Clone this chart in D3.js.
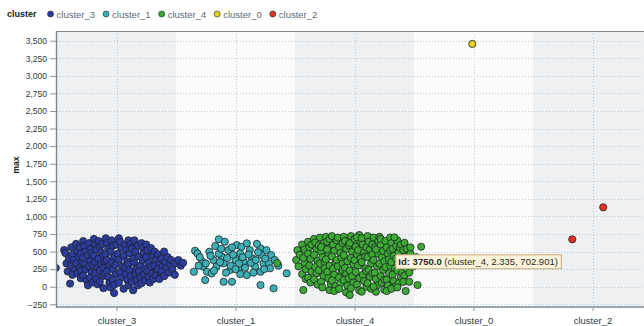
<!DOCTYPE html>
<html>
<head>
<meta charset="utf-8">
<script src="https://cdn.jsdelivr.net/npm/d3@7"></script>
<style>
  html, body { margin: 0; padding: 0; background: #ffffff; }
  svg { display: block; font-family: "Liberation Sans", Arial, sans-serif; }
</style>
</head>
<body>
<svg id="chart" width="644" height="326"></svg>
<script>
// Categories in axis / legend order, with their colours
const categories = ["cluster_3", "cluster_1", "cluster_4", "cluster_0", "cluster_2"];
const seriesColors = ["#2c3c9e", "#3cb0b6", "#3caa32", "#e6d21e", "#e4321e"];

// Y tick values
const yTickValues = [-250, 0, 250, 500, 750, 1000, 1250, 1500, 1750, 2000, 2250, 2500, 2750, 3000, 3250, 3500];

// Jittered points: [x (category index + jitter), max]
const cluster3Points = [
  [-0.51,268],[-0.44,522],[-0.43,478],[-0.42,332],[-0.40,402],[-0.41,218],[-0.39,45],
  [-0.38,560],[-0.37,455],[-0.36,380],[-0.38,295],[-0.35,240],[-0.37,170],[-0.34,610],[-0.33,510],
  [-0.32,420],[-0.34,335],[-0.31,270],[-0.33,190],[-0.30,120],[-0.31,560],[-0.30,470],[-0.29,360],[-0.30,225],
  [-0.28,650],[-0.27,580],[-0.26,500],[-0.28,410],[-0.27,320],[-0.26,250],[-0.28,160],[-0.25,90],
  [-0.24,20],[-0.23,620],[-0.22,540],[-0.24,450],[-0.22,370],[-0.23,290],[-0.21,205],[-0.22,130],
  [-0.20,60],[-0.21,480],[-0.20,310],
  [-0.19,680],[-0.18,600],[-0.17,525],[-0.19,440],[-0.18,350],[-0.16,270],[-0.18,190],[-0.17,110],
  [-0.16,35],[-0.15,650],[-0.14,570],[-0.13,490],[-0.15,400],[-0.13,320],[-0.14,230],[-0.12,150],
  [-0.14,70],[-0.11,-20],[-0.12,610],[-0.11,440],[-0.10,360],[-0.11,270],[-0.10,190],
  [-0.09,690],[-0.08,620],[-0.07,540],[-0.09,460],[-0.08,380],[-0.06,300],[-0.08,220],[-0.07,140],
  [-0.06,60],[-0.05,-10],[-0.04,660],[-0.03,580],[-0.05,500],[-0.02,420],[-0.04,340],[-0.03,250],
  [-0.01,170],[-0.03,95],[-0.02,25],[0.00,600],[0.01,470],[-0.01,310],
  [0.02,690],[0.03,640],[0.04,555],[0.02,385],[0.05,290],[0.03,210],[0.04,130],[0.02,55],
  [-0.02,-90],[0.06,-30],[0.07,600],[0.08,520],[0.06,440],[0.09,360],[0.07,270],[0.08,185],
  [0.09,100],[0.10,20],[0.10,660],[0.11,475],[0.10,320],[0.11,235],
  [0.12,610],[0.13,545],[0.14,400],[0.12,150],[0.13,70],[0.14,-50],[0.15,660],[0.16,500],
  [0.15,340],[0.17,260],[0.16,180],[0.17,95],[0.18,20],[0.18,590],[0.19,430],[0.20,300],
  [0.19,215],[0.20,135],[0.21,620],[0.21,50],
  [0.22,560],[0.23,480],[0.22,380],[0.24,260],[0.23,170],[0.24,90],[0.25,600],[0.26,520],
  [0.25,420],[0.27,340],[0.26,220],[0.27,140],[0.28,60],[0.29,550],[0.29,280],[0.30,190],
  [0.30,440],[0.31,110],
  [0.32,500],[0.33,380],[0.32,300],[0.34,230],[0.33,160],[0.35,460],[0.36,320],[0.35,250],
  [0.37,180],[0.36,110],[0.38,400],[0.39,290],[0.38,220],[0.40,500],[0.41,350],[0.40,150],
  [0.42,270],[0.43,420],[0.44,200],[0.45,320],[0.46,380],[0.47,250],[0.49,330],[0.52,380],
  [0.54,300],[0.56,340],[0.49,170]
];

const cluster1Points = [
  [0.66,512],[0.68,475],[0.65,213],[0.72,356],[0.73,285],[0.76,213],[0.745,95],[0.78,498],
  [0.83,579],[0.86,675],[0.91,640],[0.815,380],[0.84,285],[0.80,190],[0.885,427],[0.90,333],
  [0.90,71],[0.94,522],[0.955,238],[0.97,71],[1.00,380],[1.01,593],[1.04,475],[1.025,262],
  [1.05,569],[1.07,356],[1.095,617],[1.12,522],[1.095,166],[1.14,404],[1.165,285],[1.21,546],
  [1.22,451],[1.235,333],[1.21,213],[1.21,24],[1.28,333],[1.29,262],[1.32,-23],[1.43,190],
  [0.70,420],[0.75,330],[0.79,440],[0.86,470],[0.87,350],[0.93,410],[0.96,300],[0.98,455],
  [1.03,330],[1.06,420],[1.08,270],[1.11,460],[1.13,340],[1.17,380],[1.19,490],[1.25,400],
  [1.26,520],[1.30,450],[1.24,250],[0.82,230],[0.92,200],[1.15,200],[1.04,180],[1.33,380],
  [1.36,300],[0.69,300],[1.00,250],[1.18,610],[0.97,560],[0.88,540]
];

const cluster4Points = [
  [1.35,337],
  [1.51,380],[1.52,520],[1.53,290],[1.54,455],
  [1.56,600],[1.57,-47],[1.56,180],[1.58,340],[1.57,410],[1.59,250],[1.58,530],[1.59,110],
  [1.61,640],[1.62,560],[1.61,470],[1.63,395],[1.62,300],[1.64,215],[1.61,130],[1.63,60],[1.64,600],
  [1.66,680],[1.67,630],[1.68,540],[1.66,455],[1.69,370],[1.67,280],[1.68,190],[1.66,105],[1.69,30],[1.70,590],[1.70,235],
  [1.71,700],[1.72,500],[1.73,420],[1.71,330],[1.74,150],[1.72,70],[1.73,-10],[1.74,620],[1.75,350],[1.75,260],[1.72,565],
  [1.76,710],[1.77,640],[1.78,470],[1.76,390],[1.79,300],[1.77,210],[1.78,120],[1.79,-47],[1.80,40],[1.80,560],[1.77,530],[1.79,680],
  [1.81,720],[1.82,600],[1.83,510],[1.81,430],[1.84,340],[1.82,255],[1.83,170],[1.81,90],[1.84,10],[1.85,660],[1.85,380],[1.83,-60],
  [1.86,700],[1.87,560],[1.88,480],[1.86,290],[1.89,200],[1.87,130],[1.88,50],[1.90,620],[1.89,410],[1.90,330],[1.87,-30],[1.90,240],
  [1.91,711],[1.92,650],[1.93,540],[1.91,450],[1.94,360],[1.92,270],[1.93,180],[1.91,95],[1.94,15],[1.95,590],[1.95,120],[1.93,-80],
  [1.96,-118],[1.97,720],[1.96,620],[1.98,500],[1.97,410],[1.99,320],[1.96,230],[1.98,150],[1.99,60],[2.00,680],[2.00,380],[1.97,-20],
  [2.04,735],[2.01,570],[2.02,460],[2.03,300],[2.01,210],[2.04,120],[2.02,30],[2.05,640],[2.03,520],[2.05,400],[2.04,-50],[2.02,700],
  [2.06,690],[2.07,600],[2.08,490],[2.06,350],[2.09,260],[2.07,170],[2.08,80],[2.10,0],[2.09,430],[2.10,560],[2.06,-70],[2.10,220],
  [2.11,720],[2.12,640],[2.13,530],[2.11,420],[2.14,330],[2.12,240],[2.13,140],[2.11,50],[2.14,-30],[2.15,460],[2.15,600],[2.15,190],
  [2.16,700],[2.17,560],[2.18,-71],[2.16,380],[2.19,290],[2.17,200],[2.18,110],[2.19,20],[2.20,650],[2.20,470],[2.18,530],[2.16,0],
  [2.21,710],[2.22,600],[2.23,420],[2.21,330],[2.24,240],[2.22,150],[2.23,60],[2.25,-40],[2.24,510],[2.25,360],[2.22,680],[2.25,100],
  [2.26,650],[2.27,560],[2.28,470],[2.26,280],[2.29,190],[2.27,100],[2.28,20],[2.30,700],[2.29,390],[2.30,300],[2.27,-60],[2.30,520],
  [2.31,620],[2.32,540],[2.33,440],[2.31,350],[2.34,260],[2.32,170],[2.33,80],[2.34,0],[2.35,580],[2.35,400],[2.31,-30],
  [2.36,660],[2.37,490],[2.38,320],[2.36,230],[2.39,140],[2.37,50],[2.38,560],[2.40,410],[2.39,600],[2.40,200],[2.36,-10],
  [2.42,626],[2.41,520],[2.43,430],[2.41,340],[2.44,250],[2.42,160],[2.43,-61],[2.44,540],[2.45,350],[2.41,70],
  [2.46,71],[2.47,470],[2.46,200],[2.49,285],[2.48,380],[2.47,560],[2.52,420],[2.53,24],[2.56,569],
  [2.335,702.901]
];

const cluster0Points = [[2.99,3454]];
const cluster2Points = [[3.83,674],[4.09,1130]];

// Hovered point readout
const hoverInfo = { id: "3750.0", category: "cluster_4", x: 2.335, y: 702.901 };

const seriesPoints = [cluster3Points, cluster1Points, cluster4Points, cluster0Points, cluster2Points];

const svg = d3.select("#chart");
const plot = { left: 57, top: 31, right: 652, bottom: 306 };

const x = d3.scaleLinear().domain([-0.5, categories.length - 0.5]).range([plot.left, plot.right]);
const y = d3.scaleLinear().domain([-274, 3638]).range([plot.bottom, plot.top]);

svg.append("defs").append("clipPath").attr("id", "plotClip")
  .append("rect")
  .attr("x", plot.left).attr("y", plot.top)
  .attr("width", plot.right - plot.left).attr("height", plot.bottom - plot.top);

// Alternating category bands
svg.append("g").selectAll("rect")
  .data(categories)
  .join("rect")
  .attr("x", (d, i) => x(i - 0.5))
  .attr("y", plot.top)
  .attr("width", (d, i) => x(i + 0.5) - x(i - 0.5))
  .attr("height", plot.bottom - plot.top)
  .attr("fill", (d, i) => i % 2 === 0 ? "#eef0f2" : "#fbfbfb");

// Grid lines
const grid = svg.append("g").attr("clip-path", "url(#plotClip)");
grid.selectAll("line.h")
  .data(yTickValues)
  .join("line")
  .attr("class", "h")
  .attr("x1", plot.left).attr("x2", plot.right)
  .attr("y1", d => Math.round(y(d)) + 0.5).attr("y2", d => Math.round(y(d)) + 0.5)
  .attr("stroke", "#b4cde0").attr("stroke-width", 1).attr("stroke-dasharray", "1,2");
grid.selectAll("line.v")
  .data(categories)
  .join("line")
  .attr("class", "v")
  .attr("x1", (d, i) => Math.round(x(i)) + 0.5).attr("x2", (d, i) => Math.round(x(i)) + 0.5)
  .attr("y1", plot.top).attr("y2", plot.bottom)
  .attr("stroke", "#b4cde0").attr("stroke-width", 1).attr("stroke-dasharray", "1,2");

// Points
const pts = svg.append("g").attr("clip-path", "url(#plotClip)");
seriesPoints.forEach((series, si) => {
  pts.append("g").selectAll("circle")
    .data(series)
    .join("circle")
    .attr("cx", d => x(d[0]))
    .attr("cy", d => y(d[1]))
    .attr("r", 3.6)
    .attr("fill", seriesColors[si])
    .attr("stroke", "#1c2226")
    .attr("stroke-width", 0.8);
});

// Frame
svg.append("line").attr("x1", plot.left).attr("x2", 644)
  .attr("y1", plot.top + 0.5).attr("y2", plot.top + 0.5)
  .attr("stroke", "#7d878c").attr("stroke-width", 1.2);
svg.append("line").attr("x1", plot.left - 0.5).attr("x2", plot.left - 0.5)
  .attr("y1", plot.top).attr("y2", plot.bottom + 2)
  .attr("stroke", "#7d878c").attr("stroke-width", 1.4);
svg.append("line").attr("x1", plot.left).attr("x2", 644)
  .attr("y1", plot.bottom + 1).attr("y2", plot.bottom + 1)
  .attr("stroke", "#7d878c").attr("stroke-width", 1.6);

// Y axis
const yAxis = d3.axisLeft(y).tickValues(yTickValues).tickFormat(d3.format(",")).tickSize(6).tickPadding(3);
const gy = svg.append("g").attr("transform", `translate(${plot.left - 1},0)`).call(yAxis);
gy.select(".domain").remove();
gy.selectAll(".tick line").attr("stroke", "#8a9498");
gy.selectAll(".tick text").attr("fill", "#2e3a44").attr("font-size", "8.5px").attr("font-family", "Liberation Sans, Arial, sans-serif");

// X axis
const xAxis = d3.axisBottom(x).tickValues(d3.range(categories.length)).tickFormat(i => categories[i]).tickSize(3).tickPadding(6);
const gx = svg.append("g").attr("transform", `translate(0,${plot.bottom + 2})`).call(xAxis);
gx.select(".domain").remove();
gx.selectAll(".tick line").attr("stroke", "#8a9498");
gx.selectAll(".tick text").attr("fill", "#2e3a44").attr("font-size", "9.5px").attr("font-family", "Liberation Sans, Arial, sans-serif");

// Y axis title
svg.append("text")
  .attr("transform", "translate(19,165) rotate(-90)")
  .attr("text-anchor", "middle")
  .attr("font-size", "8.5px").attr("font-weight", "bold").attr("fill", "#222")
  .text("max");

// Legend
const legend = svg.append("g");
const legendTitle = legend.append("text")
  .attr("x", 7).attr("y", 17)
  .attr("font-size", "9px").attr("font-weight", "bold").attr("fill", "#1a1a1a")
  .text("cluster");
let lx = 7 + legendTitle.node().getComputedTextLength() + 14;
categories.forEach((c, i) => {
  legend.append("circle").attr("cx", lx).attr("cy", 14).attr("r", 3)
    .attr("fill", seriesColors[i]).attr("stroke", "#1c2226").attr("stroke-width", 0.6);
  const t = legend.append("text").attr("x", lx + 6).attr("y", 17.5)
    .attr("font-size", "9.5px").attr("fill", "#5a6a78").text(c);
  lx += 6 + t.node().getComputedTextLength() + 11;
});

// Hover readout box next to the hovered point
const tipX = x(hoverInfo.x) + 1, tipY = y(hoverInfo.y) + 17;
const tip = svg.append("g");
const tipBg = tip.append("rect").attr("fill", "#fcf4da").attr("stroke", "#c7a77a").attr("stroke-width", 1);
const tipText = tip.append("text").attr("x", tipX + 3).attr("y", tipY + 10.5)
  .attr("font-size", "9.5px").attr("fill", "#2a2a2a");
tipText.append("tspan").attr("font-weight", "bold").text(`Id: ${hoverInfo.id}`);
tipText.append("tspan").text(` (${hoverInfo.category}, ${hoverInfo.x}, ${hoverInfo.y})`);
const bb = tipText.node().getBBox();
tipBg.attr("x", tipX + 0.5).attr("y", tipY + 0.5)
  .attr("width", bb.width + 6).attr("height", 14);
</script>
</body>
</html>
